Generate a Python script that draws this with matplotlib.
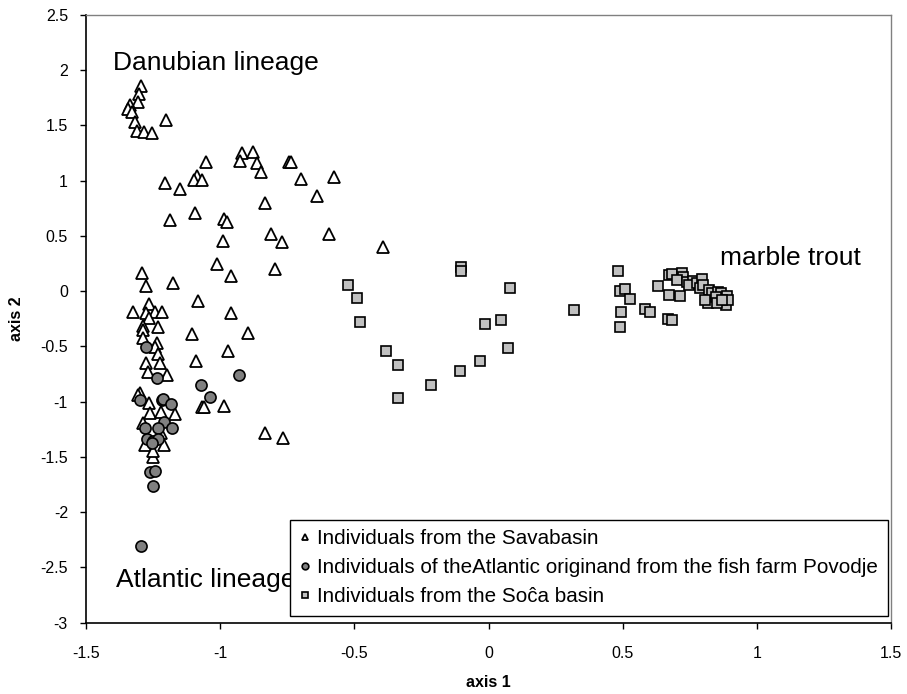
import matplotlib
matplotlib.use("Agg")
import matplotlib.pyplot as plt
import numpy as np

plt.rcParams['font.family'] = ['Liberation Sans', 'DejaVu Sans']

# Individuals from the Sava basin (triangles)
sava_x = [-1.296, -1.301, -1.305, -1.336, -1.342, -1.330, -1.316, -1.311, -1.283, -1.253, -1.202,
          -0.920, -0.876, -0.927, -0.862, -0.848, -1.052, -1.085, -1.097, -1.069, -1.207, -1.150,
          -0.833, -1.093, -1.188, -0.985, -0.973, -0.989, -0.742, -0.737, -0.700, -0.577, -0.638,
          -0.812, -0.771, -0.595, -0.393, -0.794, -0.833, -0.767,
          -1.292, -1.278, -1.175, -1.013, -0.961, -1.326, -1.264, -1.276, -1.243, -1.218, -1.264,
          -1.286, -1.286, -1.230, -1.286, -1.237, -1.243, -1.230, -1.224, -1.276, -1.268, -1.197,
          -1.084, -0.961, -1.106, -0.895, -0.970, -1.090, -1.299, -1.305, -1.264, -1.261, -1.222,
          -1.168, -1.289, -1.069, -1.060, -0.985, -1.280, -1.209, -1.249, -1.250, -1.220]
sava_y = [1.857, 1.785, 1.713, 1.686, 1.647, 1.625, 1.534, 1.453, 1.444, 1.435, 1.550,
          1.254, 1.263, 1.179, 1.158, 1.082, 1.172, 1.043, 1.007, 1.007, 0.982, 0.928,
          0.801, 0.711, 0.645, 0.651, 0.630, 0.457, 1.172, 1.167, 1.013, 1.037, 0.862,
          0.518, 0.448, 0.518, 0.398, 0.199, -1.280, -1.331,
          0.168, 0.048, 0.072, 0.247, 0.138, -0.185, -0.115, -0.200, -0.185, -0.185, -0.239,
          -0.315, -0.351, -0.321, -0.426, -0.466, -0.502, -0.568, -0.647, -0.652, -0.734, -0.758,
          -0.088, -0.194, -0.390, -0.375, -0.538, -0.629, -0.918, -0.939, -1.014, -1.104, -1.090,
          -1.111, -1.190, -1.045, -1.051, -1.039, -1.391, -1.391, -1.497, -1.450, -1.280]

# Individuals of the Atlantic origin and from the fish farm Povodje (circles)
atl_x = [-1.276, -1.237, -1.071, -0.930, -1.038, -1.299, -1.218, -1.212, -1.184, -1.209, -1.280,
         -1.230, -1.181, -1.272, -1.249, -1.233, -1.261, -1.243, -1.251, -1.295, -1.255]
atl_y = [-0.507, -0.788, -0.848, -0.758, -0.960, -0.984, -0.984, -0.978, -1.020, -1.181, -1.240,
         -1.240, -1.240, -1.340, -1.353, -1.337, -1.639, -1.624, -1.762, -2.305, -1.376]

# Individuals from the Soca basin (squares)
soca_x = [-0.522, -0.490, -0.480, -0.382, -0.338, -0.215, -0.338, -0.101, -0.101, 0.079, -0.012,
          0.046, 0.074, -0.030, -0.106, 0.319,
          0.482, 0.490, 0.509, 0.528, 0.494, 0.490, 0.585, 0.603, 0.632, 0.668, 0.685, 0.673,
          0.715, 0.674, 0.685, 0.720, 0.724, 0.704, 0.740, 0.761, 0.746, 0.776, 0.795, 0.788,
          0.801, 0.823, 0.832, 0.857, 0.866, 0.819, 0.848, 0.888, 0.885, 0.851, 0.893, 0.869, 0.807]
soca_y = [0.057, -0.058, -0.276, -0.538, -0.667, -0.848, -0.963, 0.215, 0.185, 0.032, -0.299,
          -0.263, -0.516, -0.631, -0.722, -0.170,
          0.183, 0.002, 0.020, -0.070, -0.191, -0.321, -0.158, -0.185, 0.045, -0.251, -0.263, -0.034,
          -0.046, 0.144, 0.156, 0.162, 0.132, 0.102, 0.081, 0.096, 0.057, 0.072, 0.108, 0.027,
          0.057, 0.011, -0.019, -0.004, -0.019, -0.109, -0.049, -0.043, -0.124, -0.109, -0.079, -0.079, -0.079]

labels = ['Individuals from the Savabasin',
          'Individuals of theAtlantic originand from the fish farm Povodje',
          'Individuals from the So\u0109a basin']

fig = plt.figure(figsize=(9.07, 6.94), dpi=100)
ax = fig.add_axes([0.0948, 0.1027, 0.8876, 0.8757])

ax.plot(sava_x, sava_y, ls='none', marker='^', ms=8, mfc='white', mec='black', mew=1.3, label=labels[0])
ax.plot(atl_x, atl_y, ls='none', marker='o', ms=8, mfc='#808080', mec='black', mew=1.2, label=labels[1])
ax.plot(soca_x, soca_y, ls='none', marker='s', ms=6.5, mfc='#c0c0c0', mec='black', mew=1.2, label=labels[2])

ax.set_xlim(-1.5, 1.5)
ax.set_ylim(-3, 2.5)
xt = np.arange(-1.5, 1.51, 0.5)
yt = np.arange(-3, 2.51, 0.5)
ax.set_xticks(xt)
ax.set_yticks(yt)
ax.set_xticklabels(['%g' % v for v in xt])
ax.set_yticklabels(['%g' % v for v in yt])
ax.tick_params(direction='out', length=4, width=1, labelsize=11.5, colors='black')
ax.tick_params(axis='x', pad=13)
ax.tick_params(axis='y', pad=9)
for s in ['top', 'right']:
    ax.spines[s].set_color('#808080')
    ax.spines[s].set_linewidth(1)
for s in ['left', 'bottom']:
    ax.spines[s].set_linewidth(1.2)

ax.set_xlabel('axis 1', fontsize=11.5, fontweight='bold', labelpad=10)
ax.set_ylabel('axis 2', fontsize=11.5, fontweight='bold', labelpad=12)

ax.text(-1.399, 2.0, 'Danubian lineage', fontsize=19, va='baseline', ha='left')
ax.text(-1.388, -2.674, 'Atlantic lineage', fontsize=19, va='baseline', ha='left')
ax.text(0.863, 0.238, 'marble trout', fontsize=19, va='baseline', ha='left')

leg = ax.legend(loc='lower right', bbox_to_anchor=(0.996, 0.011), borderaxespad=0, fontsize=14.9,
                markerscale=0.6, handlelength=0.55, handletextpad=0.3, borderpad=0.47,
                labelspacing=0.48, fancybox=False, framealpha=1, edgecolor='black')
leg.get_frame().set_linewidth(1)

fig.savefig('out.png', dpi=100)
